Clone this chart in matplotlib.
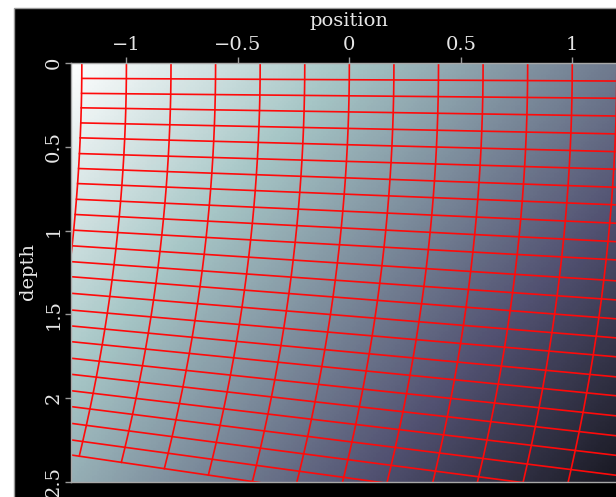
import numpy as np
import matplotlib
matplotlib.use("Agg")
import matplotlib.pyplot as plt
from matplotlib.patches import Rectangle

plt.rcParams['font.family'] = ['DejaVu Serif']

# ---- data ----
x_ticks = [-1.0, -0.5, 0.0, 0.5, 1.0]
x_tick_labels = ['\u22121', '\u22120.5', '0', '0.5', '1']
z_ticks = [0.0, 0.5, 1.0, 1.5, 2.0, 2.5]
z_tick_labels = ['0', '0.5', '1', '1.5', '2', '2.5']

# background field value at the four corners (x = -1.25 / 1.25, depth = 0 / 2.5)
field_vals = [[0.00, 0.51],
              [0.33, 0.90]]

# rays: starting lateral position and lateral drift reached at depth 2.5
ray_x0 = [-1.2, -1.0, -0.8, -0.6, -0.4, -0.2, 0.0, 0.2, 0.4, 0.6, 0.8, 1.0, 1.2, 1.4]
ray_drift = [0.23, 0.24, 0.245, 0.245, 0.24, 0.235, 0.235, 0.23, 0.23, 0.225, 0.225,
             0.22, 0.218, 0.195]

# wavefront depths at the left (x=-1.25) and right (x=1.2) side
wf_left = [0.0, 0.090, 0.179, 0.265, 0.355, 0.444, 0.538, 0.627, 0.717, 0.811,
           0.902, 0.996, 1.090, 1.185, 1.275, 1.374, 1.474, 1.569, 1.663, 1.762,
           1.858, 1.956, 2.051, 2.151, 2.250, 2.340]
wf_right = [0.0, 0.106, 0.209, 0.315, 0.422, 0.528, 0.633, 0.741, 0.846, 0.956,
            1.066, 1.175, 1.300, 1.414, 1.527, 1.641, 1.754, 1.874, 1.987, 2.107,
            2.226, 2.343, 2.462, 2.579, 2.698, 2.818]
wf_xl, wf_xr = -1.25, 1.2

# ---- figure ----
W, H = 616, 497
fig = plt.figure(figsize=(W / 100, H / 100), dpi=100)
fig.patch.set_facecolor('white')
fig.patches.append(Rectangle((14 / W, -0.01), 1.0, 1.01 - 7.5 / H, transform=fig.transFigure,
                             facecolor='black', edgecolor='#999999', lw=1.0, zorder=-5))

ax_l, ax_r = 70.7, 628.0
ax_t, ax_b = 63.3, 481.7
ax = fig.add_axes([ax_l / W, 1 - ax_b / H, (ax_r - ax_l) / W, (ax_b - ax_t) / H])
ax.set_facecolor('black')

# 2x2 corner values; pixel centres sit on the plot corners, bilinear in data space
ax.imshow(np.array(field_vals), extent=[-2.5, 2.5, 3.75, -1.25], origin='upper',
          interpolation='bilinear', interpolation_stage='data', cmap='bone_r',
          vmin=0, vmax=1, aspect='auto', zorder=1)

# grid of ray/wavefront intersection points
nk, nj = len(wf_left), len(ray_x0)
PX = np.zeros((nk, nj))
PZ = np.zeros((nk, nj))
for k in range(nk):
    for j in range(nj):
        x = ray_x0[j]
        z = wf_left[k]
        for _ in range(6):
            z = wf_left[k] + (wf_right[k] - wf_left[k]) * (x - wf_xl) / (wf_xr - wf_xl)
            x = ray_x0[j] - ray_drift[j] * (z / 2.5) ** 2
        PX[k, j] = x
        PZ[k, j] = z

red = '#ff0a0a'
for j in range(nj):
    ax.plot(PX[:, j], PZ[:, j], color=red, lw=1.2, zorder=3)
for k in range(nk):
    ax.plot(PX[k, :], PZ[k, :], color=red, lw=1.2, zorder=3)

ax.set_xlim(-1.25, 1.25)
ax.set_ylim(2.5, 0.0)

ax.xaxis.tick_top()
ax.set_xticks(x_ticks)
ax.set_xticklabels(x_tick_labels)
ax.set_yticks(z_ticks)
ax.set_yticklabels(z_tick_labels, rotation=90, va='center')
ax.tick_params(axis='both', colors='#999999', labelcolor='#e6e6e6', labelsize=14,
               length=4.5, width=1.0, direction='out')
ax.tick_params(axis='x', pad=2)
ax.tick_params(axis='y', pad=1)
for s in ax.spines.values():
    s.set_color('#a8a8a8')
    s.set_linewidth(1.0)
    s.set_zorder(4)

fig.text(349 / W, 1 - 26.5 / H, 'position', color='#e6e6e6', fontsize=14,
         ha='center', va='baseline')
fig.text(27.5 / W, 1 - 272 / H, 'depth', color='#e6e6e6', fontsize=14,
         ha='center', va='center', rotation=90)

fig.savefig('out.png', dpi=100, facecolor=fig.get_facecolor())
